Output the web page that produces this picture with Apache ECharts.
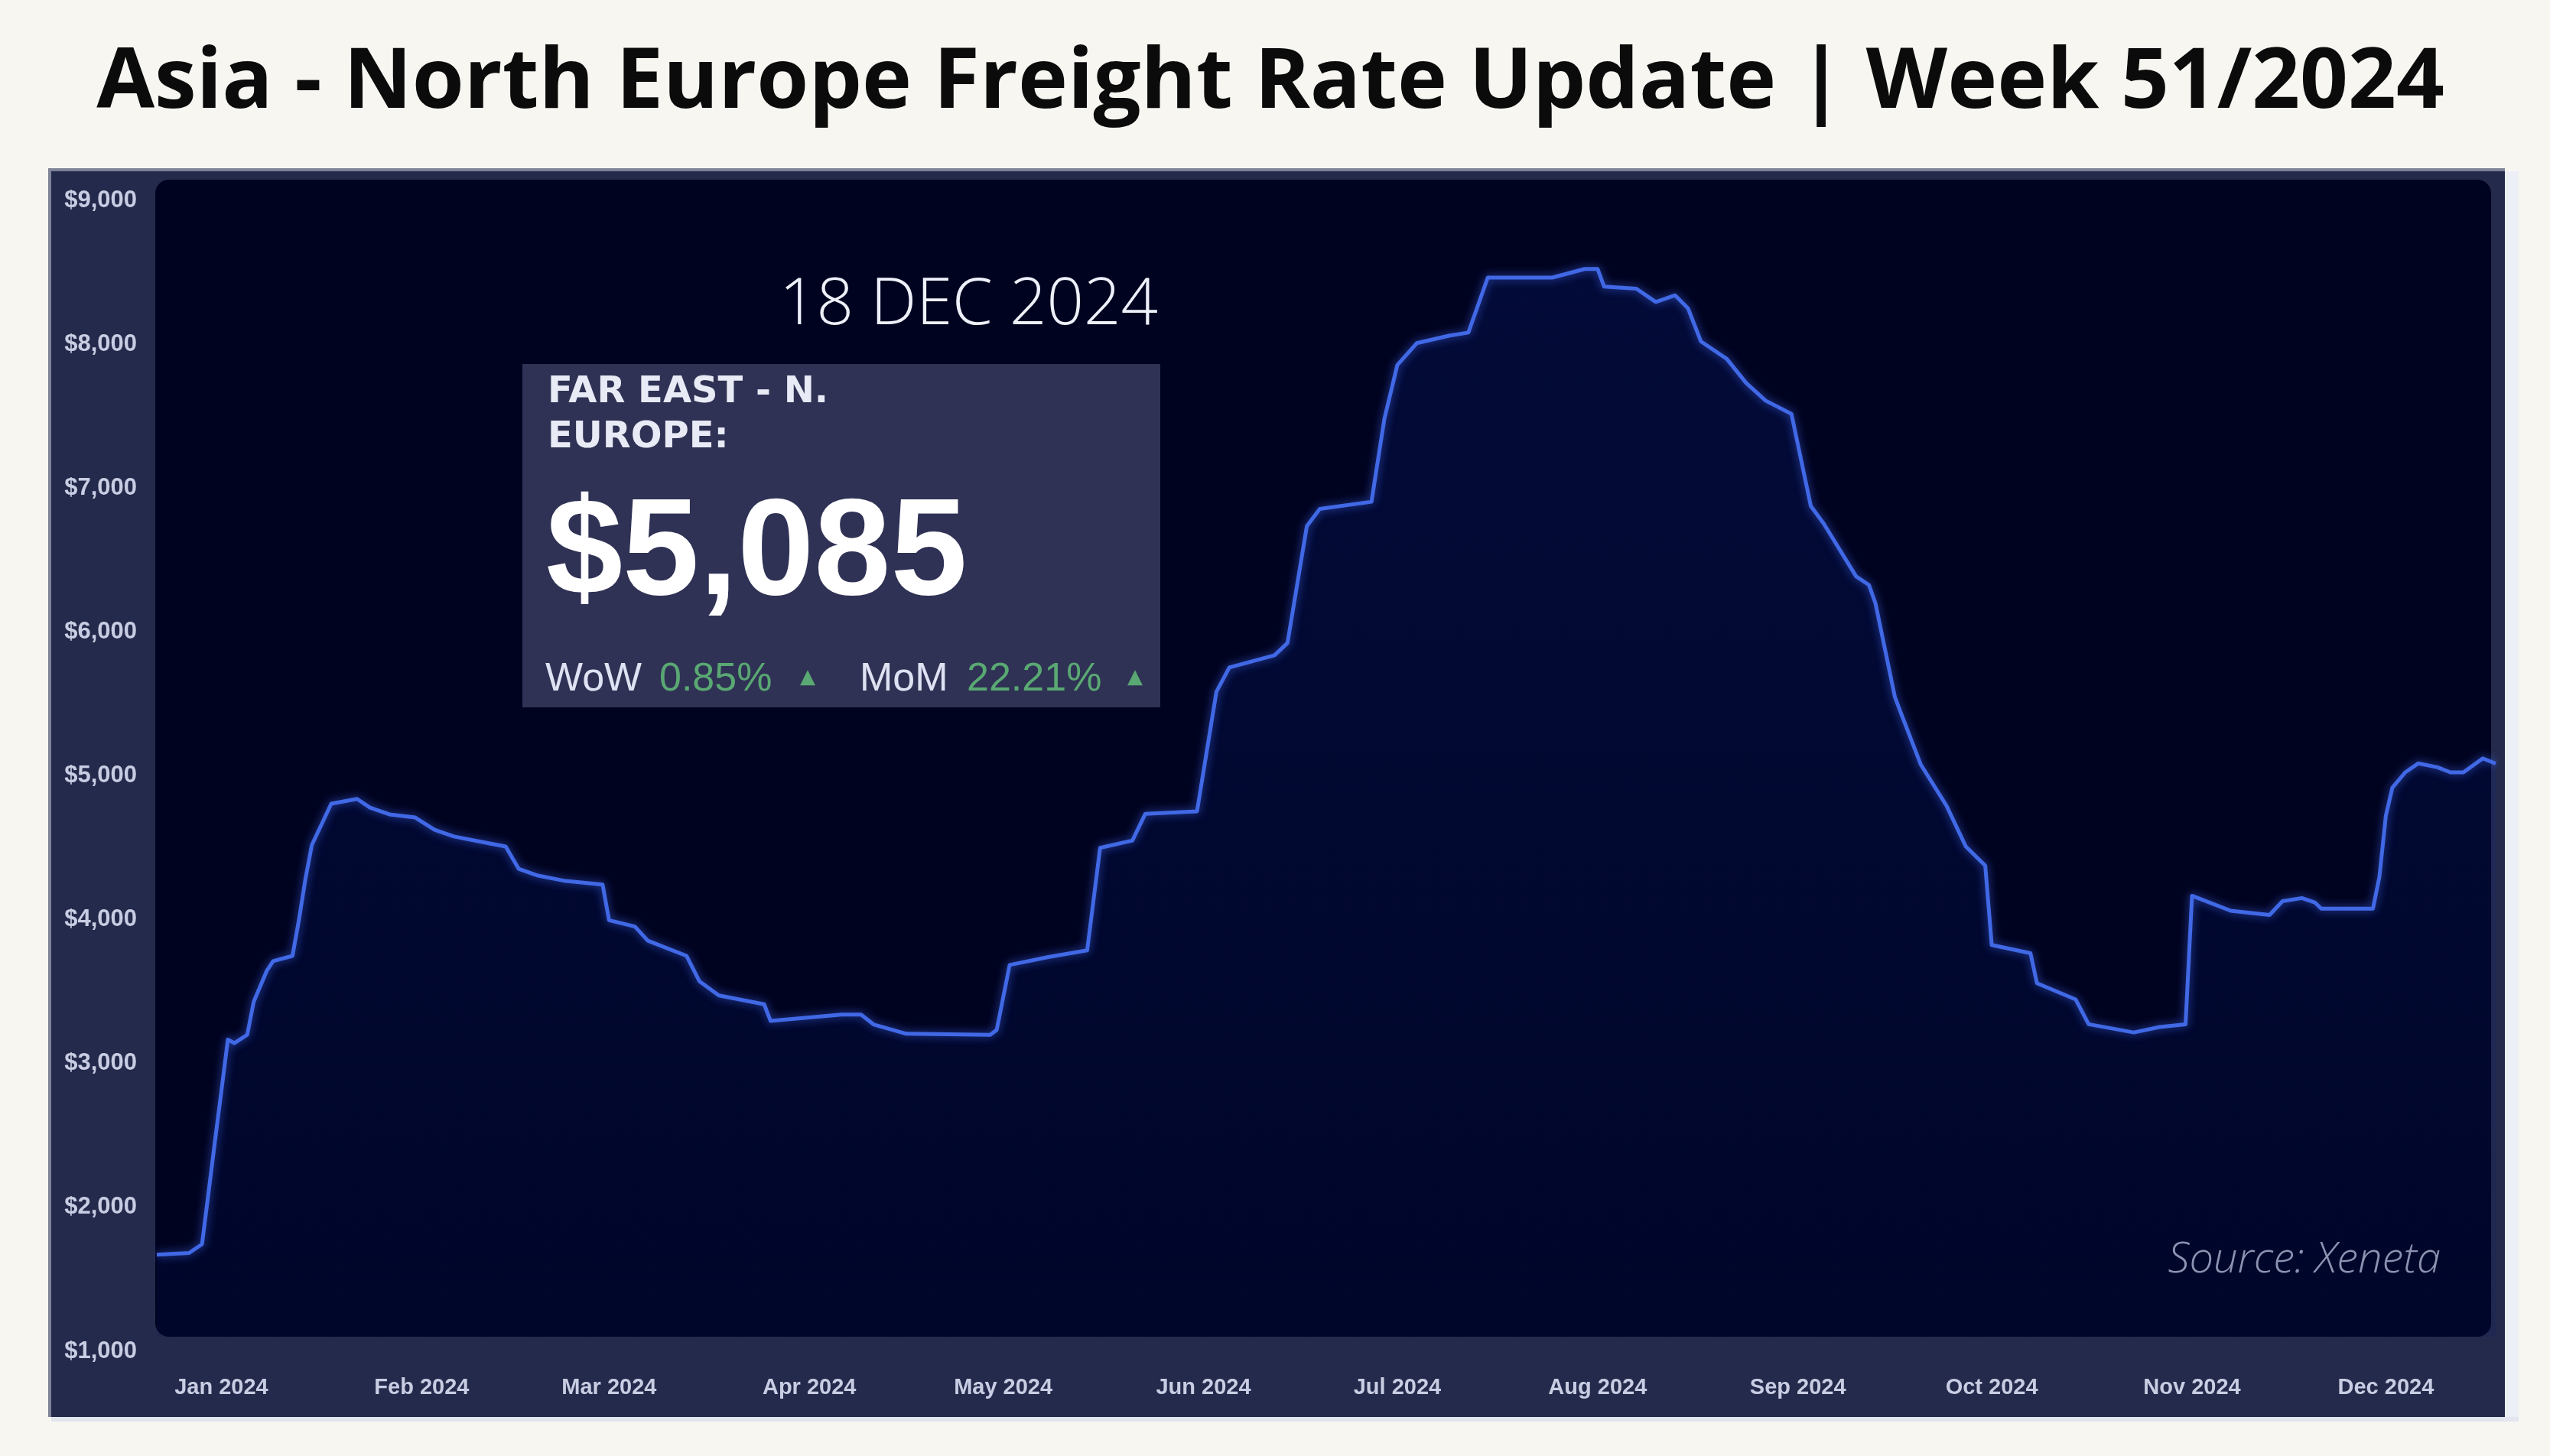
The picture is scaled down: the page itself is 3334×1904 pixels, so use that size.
<!DOCTYPE html>
<html><head><meta charset="utf-8">
<script src="https://cdn.jsdelivr.net/npm/echarts@6/dist/echarts.min.js"></script>
<style>html,body{margin:0;padding:0;background:#f7f6f1;}#c{width:3334px;height:1904px;}</style>
</head><body><div id="c"></div>
<script>
const dates = ['2023-12-22','2023-12-27','2023-12-29','2023-12-30','2023-12-31','2024-01-01','2024-01-02','2024-01-03','2024-01-05','2024-01-06','2024-01-08','2024-01-09','2024-01-12','2024-01-13','2024-01-14','2024-01-15','2024-01-17','2024-01-18','2024-01-22','2024-01-24','2024-01-27','2024-01-31','2024-02-03','2024-02-06','2024-02-10','2024-02-14','2024-02-16','2024-02-19','2024-02-23','2024-02-29','2024-03-01','2024-03-05','2024-03-07','2024-03-13','2024-03-15','2024-03-18','2024-03-25','2024-03-26','2024-04-06','2024-04-09','2024-04-11','2024-04-16','2024-04-29','2024-04-30','2024-05-02','2024-05-08','2024-05-14','2024-05-16','2024-05-21','2024-05-23','2024-05-31','2024-06-03','2024-06-05','2024-06-12','2024-06-14','2024-06-17','2024-06-19','2024-06-27','2024-06-29','2024-07-01','2024-07-04','2024-07-09','2024-07-12','2024-07-15','2024-07-25','2024-07-30','2024-08-01','2024-08-02','2024-08-07','2024-08-10','2024-08-13','2024-08-15','2024-08-17','2024-08-21','2024-08-24','2024-08-27','2024-08-31','2024-09-03','2024-09-05','2024-09-10','2024-09-12','2024-09-13','2024-09-16','2024-09-17','2024-09-20','2024-09-24','2024-09-27','2024-09-30','2024-10-01','2024-10-07','2024-10-08','2024-10-14','2024-10-16','2024-10-23','2024-10-27','2024-10-31','2024-11-01','2024-11-07','2024-11-13','2024-11-15','2024-11-18','2024-11-20','2024-11-21','2024-11-29','2024-11-30','2024-12-01','2024-12-02','2024-12-04','2024-12-06','2024-12-09','2024-12-11','2024-12-13','2024-12-16','2024-12-18'];
const rates = [1671,1683,1744,2100,2460,2810,3166,3142,3200,3429,3642,3712,3748,3998,4282,4519,4710,4806,4839,4779,4732,4710,4625,4578,4543,4508,4354,4306,4271,4244,3996,3952,3854,3748,3571,3473,3412,3296,3340,3340,3270,3207,3199,3234,3685,3740,3787,4499,4550,4736,4753,5584,5753,5838,5923,6736,6855,6905,7482,7855,8007,8059,8081,8463,8463,8523,8523,8401,8386,8294,8340,8249,8019,7898,7730,7608,7516,6875,6753,6387,6326,6200,5550,5430,5080,4792,4508,4375,3824,3767,3558,3445,3273,3216,3254,3273,4166,4062,4033,4128,4150,4120,4076,4076,4297,4722,4917,5024,5086,5059,5024,5024,5121,5085];
const monthTicks = ['2024-01-01','2024-02-01','2024-03-01','2024-04-01','2024-05-01','2024-06-01','2024-07-01','2024-08-01','2024-09-01','2024-10-01','2024-11-01','2024-12-01'];
const monthLabels = ['Jan 2024','Feb 2024','Mar 2024','Apr 2024','May 2024','Jun 2024','Jul 2024','Aug 2024','Sep 2024','Oct 2024','Nov 2024','Dec 2024'];
const yTicks = [1000,2000,3000,4000,5000,6000,7000,8000,9000];
const yTickLabels = ['$1,000','$2,000','$3,000','$4,000','$5,000','$6,000','$7,000','$8,000','$9,000'];
const titleText = 'Asia - North Europe Freight Rate Update | Week 51/2024';
const dateText = '18 DEC 2024';
const routeLine1 = 'FAR EAST - N.';
const routeLine2 = 'EUROPE:';
const latestRate = '$5,085';
const wowLabel = 'WoW', wowValue = '0.85%';
const momLabel = 'MoM', momValue = '22.21%';
const sourceText = 'Source: Xeneta';

// day number counted from 1 Jan 2024
function dayOf(s){ const p = s.split('-').map(Number); return Math.round((Date.UTC(p[0], p[1]-1, p[2]) - Date.UTC(2024,0,1)) / 86400000); }
const seriesData = dates.map((d,i)=>[dayOf(d), rates[i]]);
const tickDays = monthTicks.map(dayOf);

const chart = echarts.init(document.getElementById('c'), null, {renderer:'canvas'});
const green = '#5aa873';
const lav = '#dfe2f2';
chart.setOption({
  backgroundColor: '#f7f6f1',
  animation: false,
  grid: {left: 205, right: 71, top: 262, bottom: 137, containLabel: false},
  xAxis: {
    type: 'value', min: dayOf(dates[0]), max: dayOf(dates[dates.length-1]),
    axisLine: {show:false}, axisTick: {show:false}, splitLine: {show:false},
    axisLabel: {
      customValues: tickDays,
      formatter: v => { const i = tickDays.indexOf(v); return i >= 0 ? monthLabels[i] : ''; },
      color: '#c9cde3', fontFamily: 'Liberation Sans', fontWeight: 'bold', fontSize: 29, margin: 33,
      hideOverlap: false
    }
  },
  yAxis: {
    type: 'value', min: 1000, max: 9000, interval: 1000,
    axisLine: {show:false}, axisTick: {show:false}, splitLine: {show:false},
    axisLabel: {
      formatter: v => { const i = yTicks.indexOf(v); return i >= 0 ? yTickLabels[i] : ''; },
      color: '#c9cde3', fontFamily: 'Liberation Sans', fontWeight: 'bold', fontSize: 31, margin: 26
    }
  },
  series: [{
    type: 'line', data: seriesData, showSymbol: false, smooth: false, z: 5,
    lineStyle: {color: '#4169e6', width: 5, shadowColor: 'rgba(70,110,255,0.7)', shadowBlur: 12, join: 'round'},
    areaStyle: {origin: 1100, color: {type:'linear', x:0, y:0, x2:0, y2:1, colorStops:[
      {offset:0, color:'rgba(20,50,180,0.24)'}, {offset:1, color:'rgba(0,25,110,0.2)'}]}}
  }],
  graphic: [
    {type:'text', z:10, style:{text: titleText, x:1661, y:110, align:'center', verticalAlign:'middle', fill:'#0b0b0b', font:'bold 110px "Open Sans"'}},
    {type:'rect', z:-10, shape:{x:63, y:220, width:3212, height:1633}, style:{fill:'#7e8397'}},
    {type:'rect', z:-10, shape:{x:3275, y:224, width:18, height:1634}, style:{fill:'#eceff6'}},
    {type:'rect', z:-10, shape:{x:67, y:1853, width:3226, height:6}, style:{fill:'#e3e5ef'}},
    {type:'rect', z:-9, shape:{x:67, y:224, width:3208, height:1629}, style:{fill:'#242a4b'}},
    {type:'rect', z:-8, shape:{x:203, y:235, width:3054, height:1513, r:18}, style:{fill:'#00031f'}},
    {type:'text', z:10, style:{text: dateText, x:1514, y:400, align:'right', verticalAlign:'middle', fill:'#eef0fa', font:'300 85px "Open Sans"'}},
    {type:'rect', z:6, shape:{x:683, y:476, width:834, height:449}, style:{fill:'#2f3254'}},
    {type:'text', z:10, style:{text: routeLine1, x:716, y:514, align:'left', verticalAlign:'middle', fill:'#e8eaf5', font:'bold 48px "DejaVu Sans"'}},
    {type:'text', z:10, style:{text: routeLine2, x:716, y:573, align:'left', verticalAlign:'middle', fill:'#e8eaf5', font:'bold 48px "DejaVu Sans"'}},
    {type:'text', z:10, style:{text: latestRate, x:714, y:727, align:'left', verticalAlign:'middle', fill:'#ffffff', font:'bold 180px "Liberation Sans"'}},
    {type:'text', z:10, style:{text: wowLabel, x:713, y:889, align:'left', verticalAlign:'middle', fill:lav, font:'52px "Liberation Sans"'}},
    {type:'text', z:10, style:{text: wowValue, x:862, y:889, align:'left', verticalAlign:'middle', fill:green, font:'52px "Liberation Sans"'}},
    {type:'text', z:10, style:{text: '▲', x:1056, y:886, align:'center', verticalAlign:'middle', fill:green, font:'26px "DejaVu Sans"'}},
    {type:'text', z:10, style:{text: momLabel, x:1124, y:889, align:'left', verticalAlign:'middle', fill:lav, font:'52px "Liberation Sans"'}},
    {type:'text', z:10, style:{text: momValue, x:1264, y:889, align:'left', verticalAlign:'middle', fill:green, font:'52px "Liberation Sans"'}},
    {type:'text', z:10, style:{text: '▲', x:1484, y:886, align:'center', verticalAlign:'middle', fill:green, font:'26px "DejaVu Sans"'}},
    {type:'text', z:10, style:{text: sourceText, x:3191, y:1648, align:'right', verticalAlign:'middle', fill:'#8c92b0', font:'italic 300 56px "Open Sans"'}}
  ]
});
</script></body></html>
